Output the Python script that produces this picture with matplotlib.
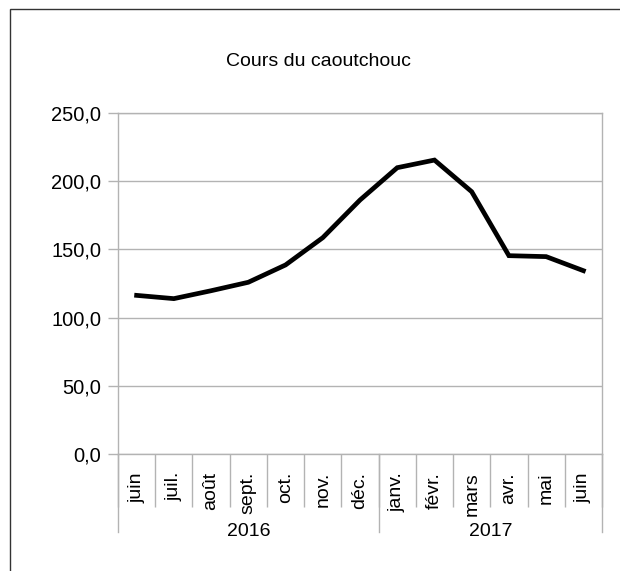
import numpy as np
import matplotlib.pyplot as plt
from matplotlib.patches import Rectangle
from matplotlib.ticker import FuncFormatter
import matplotlib.transforms as mtransforms

plt.rcParams['font.family'] = ['Liberation Sans', 'DejaVu Sans']

months = ["juin", "juil.", "août", "sept.", "oct.", "nov.", "déc.",
          "janv.", "févr.", "mars", "avr.", "mai", "juin"]
years = ["2016", "2017"]
year_spans = [(0, 6), (7, 12)]
prices = [116.3, 113.9, 119.7, 125.9, 138.6, 158.6, 186.2,
          209.9, 215.5, 192.3, 145.4, 144.7, 134.4]
title = "Cours du caoutchouc"

grid_color = "#b3b3b3"


def main():
    fig = plt.figure(figsize=(6.2, 5.71), dpi=100)
    ax = fig.add_axes([118 / 620, 117 / 571, 484 / 620, 341 / 571])

    # outer frame of the chart (clipped by the picture edges)
    fig.patches.append(Rectangle((10 / 620, -0.1), 1.0, (571 - 9) / 571 + 0.1,
                                 transform=fig.transFigure, fill=False,
                                 edgecolor="#333333", linewidth=1.0))

    x = np.arange(len(months))
    ax.plot(x, prices, color="black", linewidth=3.4, solid_joinstyle="miter")

    ax.set_xlim(-0.5, len(months) - 0.5)
    ax.set_ylim(0, 250)
    ax.set_yticks(np.arange(0, 251, 50))
    ax.yaxis.set_major_formatter(FuncFormatter(lambda v, p: f"{v:.1f}".replace(".", ",")))
    ax.grid(axis="y", color=grid_color, linewidth=1.0)
    ax.set_axisbelow(True)
    for s in ax.spines.values():
        s.set_color(grid_color)
        s.set_linewidth(1.0)
    ax.tick_params(axis="y", direction="out", length=7, width=1.0,
                   color=grid_color, labelsize=14.5, pad=5)

    # month separators as major ticks, month names as minor tick labels
    ax.set_xticks(np.arange(-0.5, len(months), 1.0))
    ax.set_xticklabels([])
    ax.tick_params(axis="x", which="major", direction="out", length=38,
                   width=1.0, color=grid_color)
    ax.set_xticks(x, minor=True)
    ax.set_xticklabels(months, minor=True, rotation=90, fontsize=14)
    ax.tick_params(axis="x", which="minor", length=0, pad=13)

    trans = mtransforms.blended_transform_factory(ax.transData, ax.transAxes)
    bounds = [-0.5] + [b + 0.5 for _, b in year_spans]
    for b in bounds:
        ax.plot([b, b], [0, -0.228], transform=trans, color=grid_color,
                linewidth=1.0, clip_on=False)
    for name, (a, b) in zip(years, year_spans):
        ax.text((a + b) / 2, -0.226, name, transform=trans, ha="center",
                va="center", fontsize=14)

    fig.text(318 / 620, 1 - 61 / 571, title, ha="center", va="center",
             fontsize=14)

    fig.savefig("out.png", dpi=100)


if __name__ == '__main__':
    main()
